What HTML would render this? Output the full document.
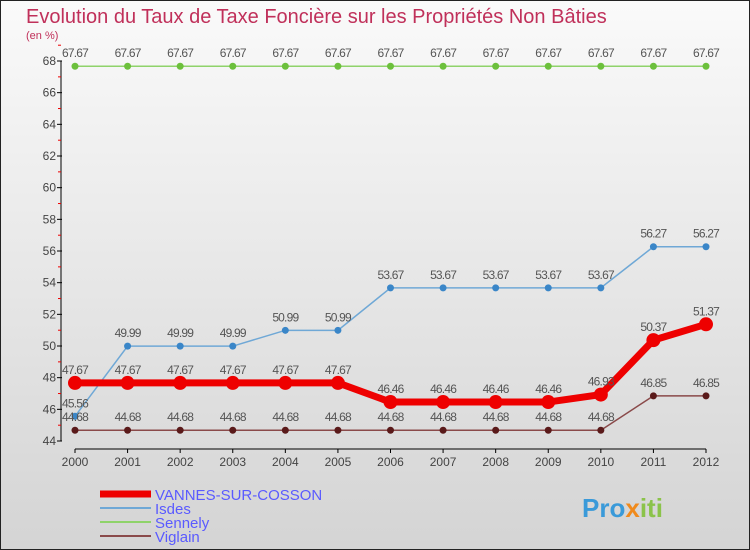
<!DOCTYPE html>
<html><head><meta charset="utf-8"><style>
body{margin:0;width:750px;height:550px;overflow:hidden;font-family:"Liberation Sans","DejaVu Sans",sans-serif}
svg{display:block}
</style></head><body>
<svg id="chart" width="750" height="550" xmlns="http://www.w3.org/2000/svg">
<defs><linearGradient id="bg" x1="0" y1="0" x2="0" y2="1"><stop offset="0" stop-color="#fafafa"/><stop offset="1" stop-color="#d4d4d4"/></linearGradient></defs>
<rect x="0.5" y="0.5" width="749" height="549" fill="url(#bg)" stroke="#222"/>
<text x="26" y="23" font-size="20" fill="#c0305a">Evolution du Taux de Taxe Foncière sur les Propriétés Non Bâties</text>
<text x="26" y="39" font-size="11" fill="#c0305a">(en %)</text>
<g id="axes"></g><g id="series"></g><g id="legend"></g>
<text x="582" y="517" font-size="26" font-weight="bold" fill="#3a9ad9">Pro<tspan fill="#f08a1c">x</tspan><tspan fill="#8bc34a">iti</tspan></text>
</svg>
<script>
const years=[2000,2001,2002,2003,2004,2005,2006,2007,2008,2009,2010,2011,2012];
const yTicks=[44,46,48,50,52,54,56,58,60,62,64,66,68];
const vannes=[47.67,47.67,47.67,47.67,47.67,47.67,46.46,46.46,46.46,46.46,46.93,50.37,51.37];
const isdes=[45.56,49.99,49.99,49.99,50.99,50.99,53.67,53.67,53.67,53.67,53.67,56.27,56.27];
const sennely=[67.67,67.67,67.67,67.67,67.67,67.67,67.67,67.67,67.67,67.67,67.67,67.67,67.67];
const viglain=[44.68,44.68,44.68,44.68,44.68,44.68,44.68,44.68,44.68,44.68,44.68,46.85,46.85];
const names=["VANNES-SUR-COSSON","Isdes","Sennely","Viglain"];
const NS="http://www.w3.org/2000/svg";
const xS=i=>75+i*(706-75)/(years.length-1);
const yS=v=>441-(v-44)*(441-61)/24;
function mk(tag,attrs,parent){const e=document.createElementNS(NS,tag);for(const k in attrs)e.setAttribute(k,attrs[k]);parent.appendChild(e);return e;}
const ax=document.getElementById('axes');
let l=mk('line',{x1:61,y1:61,x2:61,y2:441,stroke:'#000'},ax);


yTicks.forEach(t=>{const y=yS(t);
mk('line',{x1:57,y1:y,x2:62,y2:y,stroke:'#000'},ax);
mk('line',{x1:58,y1:y-15.8,x2:61,y2:y-15.8,stroke:'#e00'},ax);
const tx=mk('text',{x:56,y:y+4,'font-size':12,'text-anchor':'end',fill:'#444'},ax);tx.textContent=t;

});
l=mk('line',{x1:75,y1:449,x2:706,y2:449,stroke:'#000'},ax);


years.forEach((yr,i)=>{const x=xS(i);mk('line',{x1:x,y1:449,x2:x,y2:453,stroke:'#000'},ax);
const tx=mk('text',{x:x,y:466,'font-size':12,'text-anchor':'middle',fill:'#444'},ax);tx.textContent=yr;

});
const sg=document.getElementById('series');
const defs=[[sennely,'#8fd36a','#6cc03c',1.5,3.5,'sennely'],[isdes,'#6fa8d6','#3a86c8',1.5,3.5,'isdes'],[viglain,'#8a4a4a','#5a1a1a',1.5,3.5,'viglain'],[vannes,'#ee0000','#ee0000',7,7,'vannes']];
defs.forEach(([d,lc,pc,w,r,n])=>{
const p=mk('polyline',{points:d.map((v,i)=>xS(i)+','+yS(v)).join(' '),fill:'none',stroke:lc,'stroke-width':w},sg);


d.forEach((v,i)=>{const c=mk('circle',{cx:xS(i),cy:yS(v),r:r,fill:pc},sg);


const t=mk('text',{x:xS(i),y:yS(v)-9,'font-size':12,'text-anchor':'middle',fill:'#555','letter-spacing':'-0.8'},sg);t.textContent=v.toFixed(2).replace(/0$/,'').replace(/\.$/,'');

});});
const lg=document.getElementById('legend');
const lcol=['#ee0000','#6fa8d6','#8fd36a','#8a4a4a'],lw=[7,2,2,2],ly=[494,508,522,536];
names.forEach((n,i)=>{mk('line',{x1:100,y1:ly[i],x2:151,y2:ly[i],stroke:lcol[i],'stroke-width':lw[i]},lg);
const t=mk('text',{x:155,y:ly[i]+6,'font-size':15,fill:'#5a5aff'},lg);t.textContent=n;

});
</script>
</body></html>
